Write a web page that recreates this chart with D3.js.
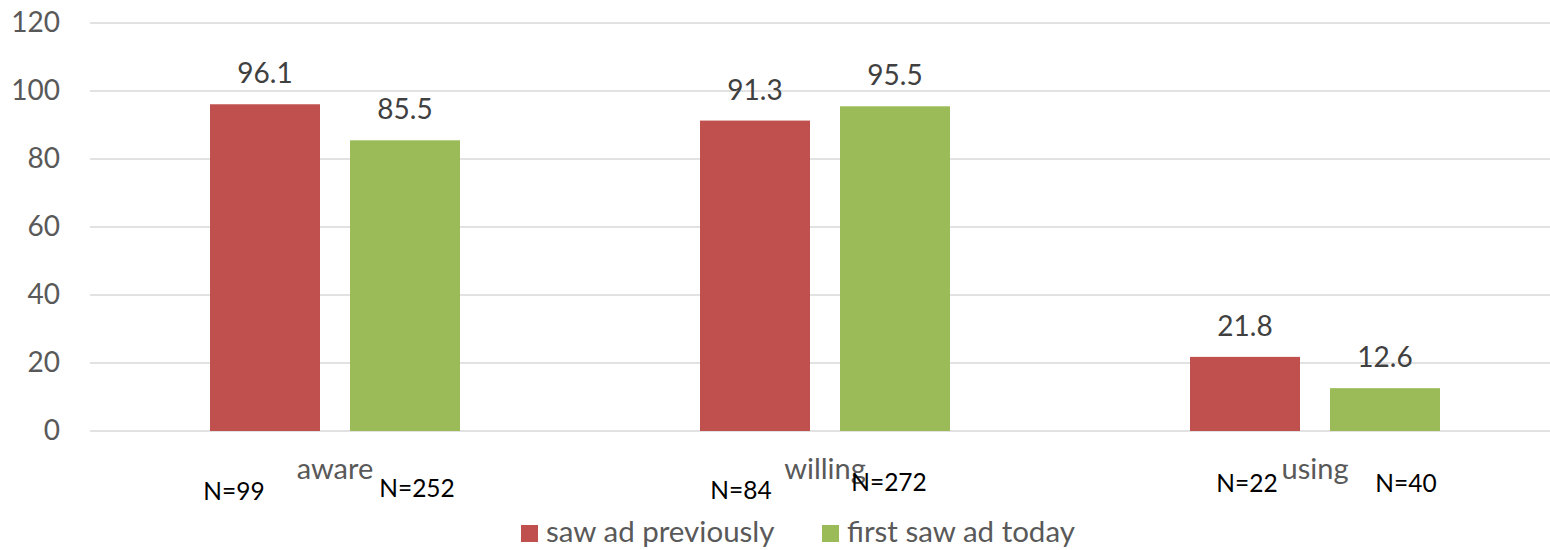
<!DOCTYPE html>
<html>
<head>
<meta charset="utf-8">
<script src="https://cdn.jsdelivr.net/npm/d3@7"></script>
<style>
  body { margin: 0; background: #fff; }
  text { font-family: Lato, "Open Sans", sans-serif; }
</style>
</head>
<body>
<div id="chart"></div>
<script>
var width = 1550,
    height = 550;

// data
var categories = ["aware", "willing", "using"];
var seriesNames = ["saw ad previously", "first saw ad today"];
var sawPreviously = [96.1, 91.3, 21.8];
var firstToday = [85.5, 95.5, 12.6];
var nPrevious = ["N=99", "N=84", "N=22"];
var nToday = ["N=252", "N=272", "N=40"];
var yTicks = [0, 20, 40, 60, 80, 100, 120];

var colors = ["#C0504D", "#9BBB59"];

// hand placed N= labels (dx from bar centre, baseline y)
var nNudge = [
    [[-31, 500], [12, 497]],
    [[-14, 499], [-6, 491]],
    [[2, 492], [21, 492]]
];

var svg = d3.select("#chart")
    .append("svg")
    .attr("width", width)
    .attr("height", height);

var x0 = d3.scaleBand()
    .domain(categories)
    .range([90, 1560])
    .padding(0);

var x1 = d3.scaleBand()
    .domain([0, 1])
    .range([120, 370])
    .paddingInner(30 / 140)
    .paddingOuter(0);

var yScale = d3.scaleLinear()
    .domain([0, 120])
    .range([431, 23]);

// gridlines
svg.append("g")
    .selectAll("line")
    .data(yTicks)
    .enter()
    .append("line")
    .attr("x1", 90)
    .attr("x2", width)
    .attr("y1", function(d) { return yScale(d); })
    .attr("y2", function(d) { return yScale(d); })
    .attr("stroke", "#D9D9D9")
    .attr("stroke-width", 1.5);

// y axis labels
var yAxis = d3.axisLeft(yScale)
    .tickValues(yTicks)
    .tickSize(0)
    .tickPadding(0);

var yg = svg.append("g")
    .attr("transform", "translate(60,0)")
    .call(yAxis);
yg.select(".domain").remove();
yg.selectAll("text")
    .attr("font-family", "Lato, 'Open Sans', sans-serif")
    .attr("font-size", 28)
    .attr("fill", "#595959");

var rows = categories.map(function(c, i) {
    return {
        cat: c,
        vals: [sawPreviously[i], firstToday[i]],
        ns: [nPrevious[i], nToday[i]],
        idx: i
    };
});

var groups = svg.selectAll(".grp")
    .data(rows)
    .enter()
    .append("g")
    .attr("class", "grp")
    .attr("transform", function(d) { return "translate(" + x0(d.cat) + ",0)"; });

var cells = function(d) {
    return d.vals.map(function(v, j) {
        return { v: v, j: j, n: d.ns[j], idx: d.idx };
    });
};

groups.selectAll("rect")
    .data(cells)
    .enter()
    .append("rect")
    .attr("x", function(d) { return x1(d.j); })
    .attr("y", function(d) { return yScale(d.v); })
    .attr("width", x1.bandwidth())
    .attr("height", function(d) { return yScale(0) - yScale(d.v); })
    .attr("fill", function(d) { return colors[d.j]; });

// value labels
groups.selectAll(".val")
    .data(cells)
    .enter()
    .append("text")
    .attr("class", "val")
    .attr("x", function(d) { return x1(d.j) + x1.bandwidth() / 2; })
    .attr("y", function(d) { return yScale(d.v) - 21; })
    .attr("text-anchor", "middle")
    .attr("font-size", 28)
    .attr("fill", "#404040")
    .text(function(d) { return d.v.toFixed(1); });

// category labels
groups.append("text")
    .attr("x", x0.bandwidth() / 2)
    .attr("y", 479)
    .attr("text-anchor", "middle")
    .attr("font-size", 29)
    .attr("fill", "#595959")
    .text(function(d) { return d.cat; });

// N= labels
groups.selectAll(".nlab")
    .data(cells)
    .enter()
    .append("text")
    .attr("class", "nlab")
    .attr("x", function(d) { return x1(d.j) + x1.bandwidth() / 2 + nNudge[d.idx][d.j][0]; })
    .attr("y", function(d) { return nNudge[d.idx][d.j][1]; })
    .attr("text-anchor", "middle")
    .attr("font-size", 24.5)
    .attr("fill", "#000")
    .text(function(d) { return d.n; });

// legend
var legendX = [521, 822];
var legend = svg.selectAll(".leg")
    .data(seriesNames)
    .enter()
    .append("g")
    .attr("class", "leg")
    .attr("transform", function(d, i) { return "translate(" + legendX[i] + ",525)"; });

legend.append("rect")
    .attr("width", 17)
    .attr("height", 17)
    .attr("fill", function(d, i) { return colors[i]; });

legend.append("text")
    .attr("x", 25)
    .attr("y", 17)
    .attr("font-size", 29.5)
    .attr("fill", "#595959")
    .text(function(d) { return d; });
</script>
</body>
</html>
